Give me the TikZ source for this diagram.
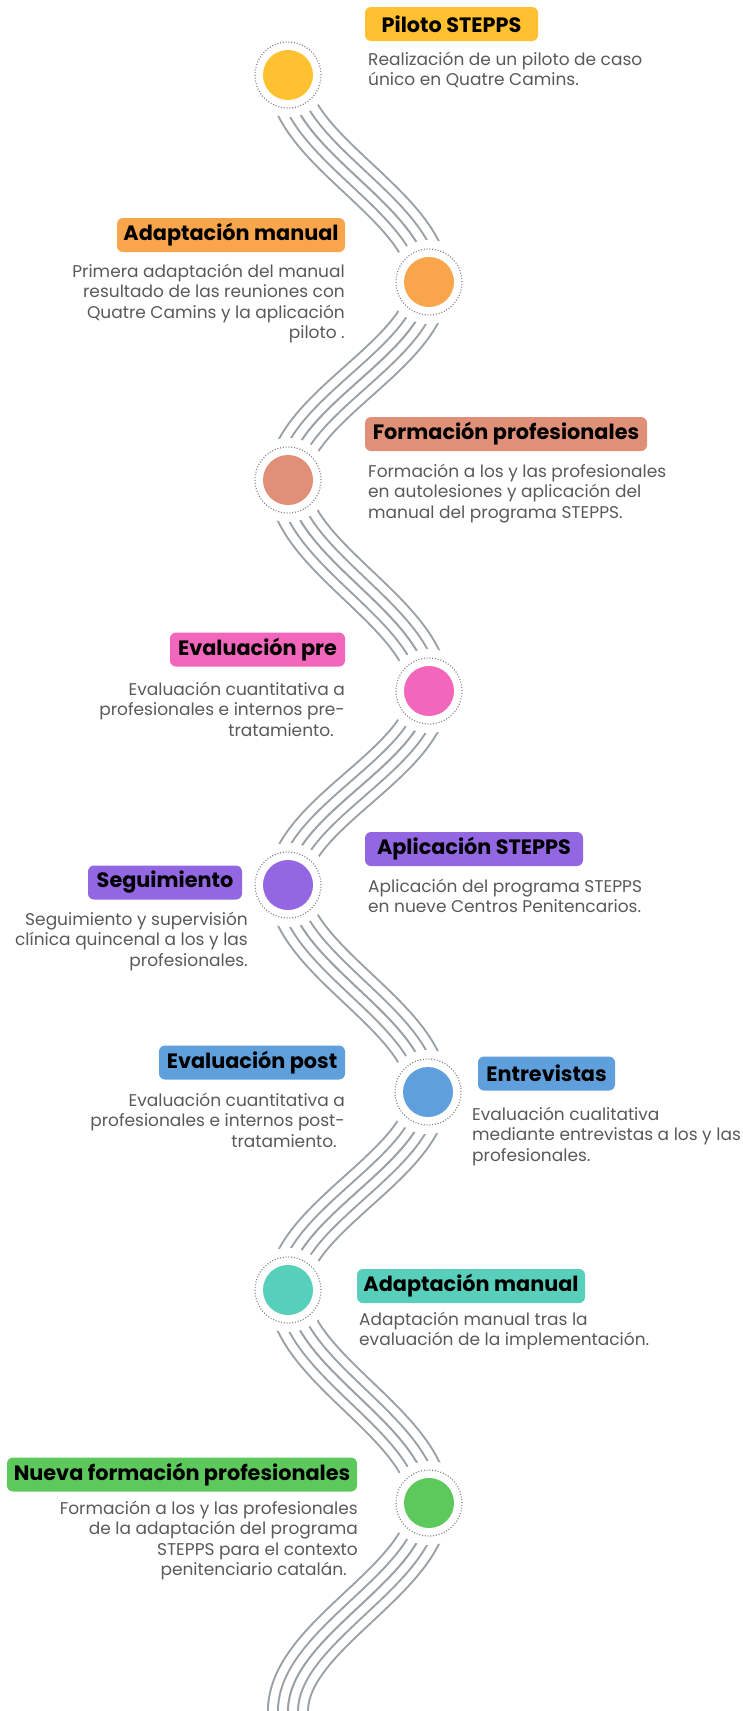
\documentclass[tikz,border=0pt]{standalone}
\usepackage{fontspec}
\setmainfont{Poppins}
\definecolor{c1}{HTML}{FFC12F}
\definecolor{c2}{HTML}{F9A54B}
\definecolor{c3}{HTML}{E08F78}
\definecolor{c4}{HTML}{F266BC}
\definecolor{c5}{HTML}{9366E2}
\definecolor{c6}{HTML}{5E9FDC}
\definecolor{c7}{HTML}{57CFBB}
\definecolor{c8}{HTML}{5DC95C}
\definecolor{lgray}{HTML}{9AA1A6}
\definecolor{rgray}{HTML}{80878C}
\definecolor{dtext}{HTML}{595959}
\pgfdeclarelayer{bg}
\pgfsetlayers{bg,main}
\newcommand\fs{\rule{0pt}{15pt}}
\tikzset{
  hbox/.style={rounded corners=6pt, inner sep=0pt, minimum height=34pt,
    font=\fontsize{20.8}{24}\selectfont\bfseries, text=black},
  desc/.style={inner sep=0pt, font=\fontsize{17}{20.5}\selectfont, text=dtext},
  dl/.style={desc, align=left, anchor=north west},
  dr/.style={desc, align=right, anchor=north east},
  ring/.style={draw=rgray, line width=1.2pt, dash pattern=on 1pt off 1.8pt},
  stop/.style={circle, inner sep=0pt, minimum size=84pt, fill=white,
    path picture={
      \fill[#1] (path picture bounding box.center) circle[radius=25pt];
      \draw[ring] (path picture bounding box.center) circle[radius=33pt];
    }},
}
\newcommand\wavepath{(n1.center) .. controls +(0,75) and +(0,-75) .. (n2.center)
  .. controls +(0,72) and +(0,-72) .. (n3.center)
  .. controls +(0,77) and +(0,-77) .. (n4.center)
  .. controls +(0,71) and +(0,-71) .. (n5.center)
  .. controls +(0,75) and +(0,-75) .. (n6.center)
  .. controls +(0,72) and +(0,-72) .. (n7.center)
  .. controls +(0,78) and +(0,-78) .. (n8.center)
  .. controls +(0,76) and +(0,-76) .. (wend) -- (wend2)}
\begin{document}
\begin{tikzpicture}[x=1pt,y=-1pt]
\useasboundingbox (0,0) rectangle (742,1711);
% stops
\node[stop=c1] (n1) at (288,75) {};
\node[stop=c2] (n2) at (429,282) {};
\node[stop=c3] (n3) at (288,480) {};
\node[stop=c4] (n4) at (429,691) {};
\node[stop=c5] (n5) at (288,885) {};
\node[stop=c6] (n6) at (428,1092) {};
\node[stop=c7] (n7) at (288,1290) {};
\node[stop=c8] (n8) at (429,1503) {};
\coordinate (wend) at (288,1711);
\coordinate (wend2) at (288,1725);
% wave bundle
\begin{pgfonlayer}{bg}
\draw[lgray, line width=42pt] \wavepath;
\draw[white, line width=38pt] \wavepath;
\draw[lgray, line width=22pt] \wavepath;
\draw[white, line width=18pt] \wavepath;
\draw[lgray, line width=2pt] \wavepath;
\end{pgfonlayer}
% headings
\node[hbox, fill=c1, minimum width=173pt] (h1) at (451.5,24) {Piloto STEPPS};
\node[hbox, fill=c2, minimum width=228pt] (h2) at (231,235) {Adaptación manual};
\node[hbox, fill=c3, minimum width=282pt] (h3) at (506,434) {Formación profesionales};
\node[hbox, fill=c4, minimum width=175pt] (h4) at (257.5,649.5) {Evaluación pre};
\node[hbox, fill=c5, minimum width=218pt] (h5a) at (474,849) {Aplicación STEPPS};
\node[hbox, fill=c5, minimum width=154pt] (h5b) at (165,882.5) {Seguimiento};
\node[hbox, fill=c6, minimum width=186pt] (h6a) at (252,1062.5) {Evaluación post};
\node[hbox, fill=c6, minimum width=137pt] (h6b) at (546.5,1073.5) {Entrevistas};
\node[hbox, fill=c7, minimum width=228pt] (h7) at (471,1286) {Adaptación manual};
\node[hbox, fill=c8, minimum width=350pt] (h8) at (182,1474.5) {Nueva formación profesionales};
% descriptions
\node[dl] (d1) at (368,50) {\fs Realización de un piloto de caso\\único en Quatre Camins.};
\node[dr] (d2) at (345,262) {\fs Primera adaptación del manual\\resultado de las reuniones con\\Quatre Camins y la aplicación\\piloto .};
\node[dl] (d3) at (368,462) {\fs Formación a los y las profesionales\\en autolesiones y aplicación del\\manual del programa STEPPS.};
\node[dr] (d4) at (345,680) {\fs Evaluación cuantitativa a\\profesionales e internos pre-\\tratamiento.\kern11pt};
\node[dl] (d5a) at (368,877) {\fs Aplicación del programa STEPPS\\en nueve Centros Penitencarios.};
\node[dr] (d5b) at (248,910) {\fs Seguimiento y supervisión\\clínica quincenal a los y las\\profesionales.};
\node[dr] (d6a) at (345,1091) {\fs Evaluación cuantitativa a\\profesionales e internos post-\\tratamiento.\kern8pt};
\node[dl] (d6b) at (472,1105) {\fs Evaluación cualitativa\\mediante entrevistas a los y las\\profesionales.};
\node[dl] (d7) at (359,1310) {\fs Adaptación manual tras la\\evaluación de la implementación.};
\node[dr] (d8) at (358,1499) {\fs Formación a los y las profesionales\\de la adaptación del programa\\STEPPS para el contexto\\penitenciario catalán.\kern11pt};
\end{tikzpicture}
\end{document}
